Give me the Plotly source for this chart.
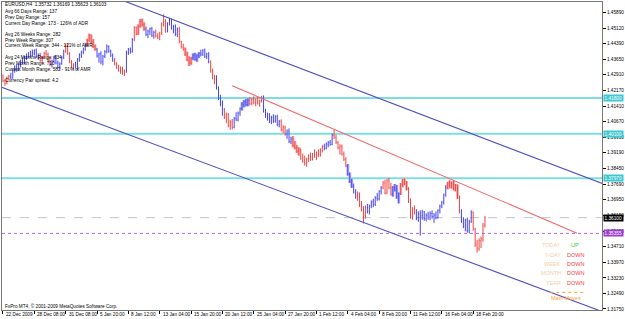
import plotly.graph_objects as go

# ---------------- data (EURUSD, H4) ----------------
opens = [
    1.4285,1.4262,1.4250,1.4276,1.4284,1.4275,1.4310,1.4328,1.4312,1.4338,1.4355,1.4348,1.4372,1.4385,1.4378,1.4398,
    1.4390,1.4405,1.4378,1.4385,1.4360,1.4372,1.4392,1.4386,1.4358,1.4340,1.4355,1.4374,1.4346,1.4325,1.4342,1.4372,
    1.4402,1.4430,1.4392,1.4352,1.4330,1.4338,1.4345,1.4360,1.4385,1.4398,1.4412,1.4432,1.4455,1.4478,1.4448,1.4425,
    1.4412,1.4380,1.4390,1.4352,1.4378,1.4400,1.4425,1.4402,1.4382,1.4360,1.4342,1.4325,1.4312,1.4320,1.4298,1.4308,
    1.4395,1.4410,1.4402,1.4458,1.4515,1.4485,1.4522,1.4545,1.4528,1.4508,1.4482,1.4498,1.4510,1.4476,1.4492,1.4475,
    1.4468,1.4488,1.4532,1.4545,1.4498,1.4535,1.4550,1.4512,1.4520,1.4482,1.4508,1.4448,1.4422,1.4412,1.4388,1.4362,
    1.4345,1.4372,1.4385,1.4365,1.4380,1.4392,1.4386,1.4405,1.4378,1.4390,1.4352,1.4308,1.4275,1.4282,1.4228,1.4178,
    1.4150,1.4125,1.4088,1.4100,1.4048,1.4065,1.4040,1.4082,1.4075,1.4108,1.4128,1.4150,1.4162,1.4148,1.4170,1.4152,
    1.4172,1.4158,1.4170,1.4155,1.4165,1.4182,1.4118,1.4092,1.4102,1.4068,1.4088,1.4070,1.4090,1.4052,1.4068,1.4028,
    1.4040,1.4008,1.4022,1.3972,1.3985,1.3952,1.3942,1.3925,1.3935,1.3892,1.3880,1.3868,1.3888,1.3905,1.3890,1.3912,
    1.3902,1.3918,1.3908,1.3932,1.3948,1.3940,1.3960,1.3968,1.3958,1.4002,1.3992,1.3968,1.3942,1.3950,1.3912,1.3888,
    1.3858,1.3818,1.3782,1.3760,1.3732,1.3710,1.3722,1.3668,1.3650,1.3620,1.3658,1.3640,1.3665,1.3685,1.3672,1.3705,
    1.3700,1.3735,1.3752,1.3775,1.3728,1.3785,1.3752,1.3722,1.3752,1.3742,1.3710,1.3725,1.3768,1.3788,1.3772,1.3748,
    1.3690,1.3615,1.3652,1.3635,1.3610,1.3630,1.3620,1.3638,1.3605,1.3622,1.3612,1.3630,1.3615,1.3622,1.3610,1.3645,
    1.3665,1.3682,1.3718,1.3755,1.3772,1.3760,1.3775,1.3748,1.3762,1.3708,1.3640,1.3595,1.3570,1.3598,1.3548,1.3592,
    1.3635,1.3555,1.3480,1.3462,1.3500,1.3510,1.3573,
]
highs = [
    1.4292,1.4270,1.4282,1.4290,1.4300,1.4318,1.4335,1.4340,1.4345,1.4362,1.4372,1.4380,1.4392,1.4398,1.4405,1.4410,
    1.4412,1.4415,1.4392,1.4395,1.4378,1.4400,1.4408,1.4396,1.4370,1.4362,1.4380,1.4385,1.4358,1.4350,1.4380,1.4410,
    1.4438,1.4440,1.4398,1.4360,1.4345,1.4352,1.4370,1.4392,1.4405,1.4420,1.4440,1.4462,1.4486,1.4482,1.4460,1.4435,
    1.4418,1.4395,1.4402,1.4385,1.4408,1.4435,1.4430,1.4410,1.4392,1.4370,1.4350,1.4338,1.4330,1.4328,1.4315,1.4405,
    1.4418,1.4420,1.4465,1.4522,1.4520,1.4530,1.4555,1.4558,1.4540,1.4520,1.4505,1.4515,1.4518,1.4500,1.4505,1.4488,
    1.4495,1.4540,1.4578,1.4555,1.4540,1.4562,1.4558,1.4528,1.4530,1.4515,1.4518,1.4452,1.4438,1.4420,1.4400,1.4378,
    1.4375,1.4392,1.4395,1.4388,1.4398,1.4410,1.4412,1.4415,1.4395,1.4398,1.4358,1.4320,1.4290,1.4288,1.4235,1.4195,
    1.4168,1.4132,1.4110,1.4108,1.4075,1.4080,1.4090,1.4112,1.4115,1.4135,1.4160,1.4170,1.4175,1.4178,1.4185,1.4180,
    1.4188,1.4178,1.4185,1.4172,1.4190,1.4192,1.4128,1.4110,1.4108,1.4095,1.4102,1.4098,1.4100,1.4075,1.4078,1.4050,
    1.4048,1.4030,1.4035,1.3995,1.3998,1.3975,1.3955,1.3945,1.3940,1.3915,1.3905,1.3895,1.3912,1.3920,1.3918,1.3935,
    1.3925,1.3935,1.3940,1.3955,1.3962,1.3968,1.3975,1.3980,1.4010,1.4028,1.4005,1.3975,1.3960,1.3958,1.3925,1.3898,
    1.3865,1.3825,1.3795,1.3772,1.3745,1.3735,1.3730,1.3690,1.3665,1.3668,1.3675,1.3672,1.3692,1.3700,1.3712,1.3728,
    1.3740,1.3760,1.3785,1.3790,1.3795,1.3800,1.3775,1.3760,1.3770,1.3765,1.3730,1.3775,1.3795,1.3798,1.3785,1.3755,
    1.3702,1.3660,1.3668,1.3650,1.3640,1.3645,1.3648,1.3642,1.3630,1.3638,1.3640,1.3645,1.3632,1.3640,1.3650,1.3672,
    1.3690,1.3725,1.3765,1.3780,1.3787,1.3782,1.3785,1.3770,1.3768,1.3715,1.3650,1.3612,1.3605,1.3610,1.3600,1.3645,
    1.3640,1.3562,1.3505,1.3512,1.3520,1.3585,1.3617,
]
lows = [
    1.4255,1.4238,1.4245,1.4266,1.4270,1.4272,1.4300,1.4305,1.4308,1.4325,1.4340,1.4342,1.4360,1.4370,1.4372,1.4380,
    1.4382,1.4370,1.4360,1.4352,1.4345,1.4365,1.4380,1.4350,1.4330,1.4325,1.4348,1.4340,1.4318,1.4315,1.4338,1.4365,
    1.4395,1.4385,1.4345,1.4322,1.4315,1.4320,1.4312,1.4352,1.4370,1.4388,1.4405,1.4425,1.4448,1.4440,1.4418,1.4405,
    1.4372,1.4348,1.4340,1.4335,1.4370,1.4392,1.4395,1.4375,1.4352,1.4335,1.4318,1.4305,1.4295,1.4290,1.4285,1.4300,
    1.4385,1.4390,1.4395,1.4450,1.4478,1.4480,1.4515,1.4520,1.4500,1.4475,1.4465,1.4480,1.4470,1.4462,1.4468,1.4460,
    1.4455,1.4480,1.4520,1.4490,1.4492,1.4525,1.4505,1.4488,1.4475,1.4470,1.4440,1.4415,1.4405,1.4380,1.4355,1.4332,
    1.4338,1.4360,1.4358,1.4352,1.4370,1.4378,1.4380,1.4370,1.4365,1.4345,1.4300,1.4268,1.4245,1.4220,1.4170,1.4140,
    1.4095,1.4080,1.4060,1.4040,1.4028,1.4030,1.4035,1.4070,1.4068,1.4095,1.4120,1.4135,1.4140,1.4140,1.4145,1.4145,
    1.4150,1.4140,1.4148,1.4138,1.4158,1.4110,1.4085,1.4072,1.4060,1.4055,1.4060,1.4062,1.4045,1.4040,1.4020,1.4012,
    1.4000,1.3985,1.3965,1.3960,1.3945,1.3935,1.3918,1.3905,1.3885,1.3870,1.3858,1.3852,1.3875,1.3880,1.3882,1.3895,
    1.3885,1.3898,1.3900,1.3920,1.3930,1.3935,1.3945,1.3952,1.3955,1.3985,1.3960,1.3935,1.3910,1.3905,1.3880,1.3850,
    1.3810,1.3775,1.3752,1.3725,1.3700,1.3690,1.3660,1.3640,1.3582,1.3605,1.3630,1.3625,1.3655,1.3660,1.3665,1.3690,
    1.3692,1.3720,1.3745,1.3720,1.3722,1.3745,1.3715,1.3710,1.3735,1.3700,1.3678,1.3718,1.3755,1.3765,1.3740,1.3680,
    1.3605,1.3600,1.3625,1.3598,1.3590,1.3525,1.3600,1.3595,1.3592,1.3600,1.3598,1.3605,1.3585,1.3602,1.3605,1.3630,
    1.3655,1.3672,1.3710,1.3745,1.3750,1.3748,1.3740,1.3735,1.3700,1.3630,1.3585,1.3560,1.3545,1.3538,1.3535,1.3585,
    1.3548,1.3470,1.3443,1.3452,1.3465,1.3495,1.3562,
]
closes = [
    1.4262,1.4250,1.4276,1.4284,1.4275,1.4310,1.4328,1.4312,1.4338,1.4355,1.4348,1.4372,1.4385,1.4378,1.4398,1.4390,
    1.4405,1.4378,1.4385,1.4360,1.4372,1.4392,1.4386,1.4358,1.4340,1.4355,1.4374,1.4346,1.4325,1.4342,1.4372,1.4402,
    1.4430,1.4392,1.4352,1.4330,1.4338,1.4345,1.4360,1.4385,1.4398,1.4412,1.4432,1.4455,1.4478,1.4448,1.4425,1.4412,
    1.4380,1.4390,1.4352,1.4378,1.4400,1.4425,1.4402,1.4382,1.4360,1.4342,1.4325,1.4312,1.4320,1.4298,1.4308,1.4395,
    1.4410,1.4402,1.4458,1.4515,1.4485,1.4522,1.4545,1.4528,1.4508,1.4482,1.4498,1.4510,1.4476,1.4492,1.4475,1.4468,
    1.4488,1.4532,1.4545,1.4498,1.4535,1.4550,1.4512,1.4520,1.4482,1.4508,1.4448,1.4422,1.4412,1.4388,1.4362,1.4345,
    1.4368,1.4385,1.4365,1.4380,1.4392,1.4386,1.4405,1.4378,1.4390,1.4352,1.4308,1.4275,1.4282,1.4228,1.4178,1.4150,
    1.4125,1.4088,1.4100,1.4048,1.4065,1.4040,1.4082,1.4075,1.4108,1.4128,1.4150,1.4162,1.4148,1.4170,1.4152,1.4172,
    1.4158,1.4170,1.4155,1.4165,1.4182,1.4118,1.4092,1.4102,1.4068,1.4088,1.4070,1.4090,1.4052,1.4068,1.4028,1.4040,
    1.4008,1.4022,1.3972,1.3985,1.3952,1.3942,1.3925,1.3935,1.3892,1.3880,1.3868,1.3888,1.3905,1.3890,1.3912,1.3902,
    1.3918,1.3908,1.3932,1.3948,1.3940,1.3960,1.3968,1.3958,1.4002,1.3992,1.3968,1.3942,1.3950,1.3912,1.3888,1.3858,
    1.3818,1.3782,1.3760,1.3732,1.3710,1.3722,1.3668,1.3650,1.3620,1.3658,1.3640,1.3665,1.3685,1.3672,1.3705,1.3700,
    1.3735,1.3752,1.3775,1.3728,1.3785,1.3752,1.3722,1.3752,1.3742,1.3710,1.3725,1.3768,1.3788,1.3772,1.3748,1.3690,
    1.3615,1.3652,1.3635,1.3610,1.3630,1.3620,1.3638,1.3605,1.3622,1.3612,1.3630,1.3615,1.3622,1.3610,1.3645,1.3665,
    1.3682,1.3718,1.3755,1.3772,1.3760,1.3775,1.3748,1.3762,1.3708,1.3640,1.3595,1.3570,1.3598,1.3548,1.3592,1.3635,
    1.3555,1.3480,1.3462,1.3500,1.3510,1.3573,1.3610,
]
# trend colouring of the bars (run lengths): r = red, b = blue
color_runs = [("r",4),("b",15),("r",6),("b",7),("r",5),("b",6),("r",5),("b",9),("r",6),("b",4),
              ("r",6),("b",5),("r",6),("b",6),("r",7),("b",9),("r",3),("b",4),("r",5),("b",8),
              ("r",7),("b",9),("r",3),("b",3),("r",16),("b",5),("r",7),("b",5),("r",5),("b",8),
              ("r",5),("b",4),("r",8),("b",16),("r",7),("b",6),("r",7)]
# light (Heiken-Ashi like) body zones: (first bar, last bar, colour)
body_zones = [(43,47,"r"),(69,72,"r"),(93,96,"r"),(97,100,"b"),(122,125,"b"),
              (148,151,"r"),(176,178,"b"),(199,202,"b"),(203,206,"r"),(227,232,"r")]

time_labels = ["22 Dec 2009","28 Dec 08:00","31 Dec 08:00","5 Jan 20:00","8 Jan 12:00",
               "13 Jan 04:00","15 Jan 20:00","20 Jan 12:00","25 Jan 04:00","27 Jan 20:00",
               "1 Feb 12:00","4 Feb 04:00","8 Feb 20:00","11 Feb 12:00","16 Feb 04:00","18 Feb 20:00"]
label_step = 16
price_ticks = ["1.31750","1.32490","1.33230","1.33970","1.34710","1.35450","1.36190","1.36950",
               "1.37690","1.38450","1.39190","1.39930","1.40670","1.41410","1.42170","1.42910",
               "1.43650","1.44390","1.45120","1.45890"]

upper_channel_x = [60, 306]
upper_channel_y = [1.4648, 1.3772]
lower_channel_x = [-1, 306]
lower_channel_y = [1.4232, 1.3162]
red_trend_x = [117, 293]
red_trend_y = [1.4238, 1.3536]
cyan_levels = [1.4180, 1.4010, 1.3797]
cyan_texts = ["1.41800", "1.40100", "1.37970"]
bid_price = 1.3610
bid_text = "1.36100"
purple_level = 1.3535
purple_text = "1.35355"

info_lines = ["EURUSD,H4  1.35732 1.36169 1.35623 1.36103",
              "Avg 66 Days Range: 137", "Prev Day Range: 157",
              "Current Day Range: 173 - 126% of ADR",
              "Avg 26 Weeks Range: 282", "Prev Week Range: 307",
              "Current Week Range: 344 - 121% of AWR",
              "Avg 24 Months Range: 634", "Prev Month Range: 710",
              "Current Month Range: 582 - 91% of AMR",
              "Currency Pair spread: 4.2"]
info_px = [4, 10.5, 16.5, 23, 33.5, 39.5, 45, 56.5, 62.5, 68.5, 80]
period_names = ["TODAY", "Y-DAY", "WEEK", "MONTH", "YEAR"]
period_moves = ["UP", "DOWN", "DOWN", "DOWN", "DOWN"]
period_px = [245, 255, 264.3, 273.3, 282.7]

# ---------------- styling / geometry ----------------
W, H = 625, 319
L, R, T, B = 2, 20, 1, 9
PW, PH = W - L - R, H - T - B
FONT = "Liberation Sans"
FS = 4.7
BLUE, RED = "#4444f0", "#f04444"
LBLUE, LRED = "#b4b4f4", "#f6b4b4"

def py(ypx):   # pixel row -> paper y
    return (H - B - ypx) / PH

def px(xpx):   # pixel column -> paper x
    return (xpx - L) / PW

n = len(closes)
idx = list(range(n))
bar_col = []
for c, k in color_runs:
    bar_col += [c] * k

fig = go.Figure()

# light bodies
for c in ("r", "b"):
    xs, base, hgt = [], [], []
    for a, b, cc in body_zones:
        if cc != c:
            continue
        for i in range(a, b + 1):
            xs.append(i)
            base.append(lows[i])
            hgt.append(highs[i] - lows[i])
    fig.add_trace(go.Bar(x=xs, y=hgt, base=base, width=1.5,
                         marker=dict(color=LRED if c == "r" else LBLUE, line=dict(width=0)),
                         hoverinfo="skip"))

# OHLC bars split by colour
for c, col in (("b", BLUE), ("r", RED)):
    sel = [i for i in idx if bar_col[i] == c]
    fig.add_trace(go.Ohlc(x=sel,
                          open=[opens[i] for i in sel], high=[highs[i] for i in sel],
                          low=[lows[i] for i in sel], close=[closes[i] for i in sel],
                          increasing=dict(line=dict(color=col, width=1)),
                          decreasing=dict(line=dict(color=col, width=1)),
                          tickwidth=0.25, hoverinfo="skip"))

# channel + trend lines
fig.add_trace(go.Scatter(x=upper_channel_x, y=upper_channel_y, mode="lines",
                         line=dict(color="#5050c4", width=1.1), hoverinfo="skip"))
fig.add_trace(go.Scatter(x=lower_channel_x, y=lower_channel_y, mode="lines",
                         line=dict(color="#5050c4", width=1.1), hoverinfo="skip"))
fig.add_trace(go.Scatter(x=red_trend_x, y=red_trend_y, mode="lines",
                         line=dict(color="#f06a6a", width=1.1), hoverinfo="skip"))

shapes = []
for lv in cyan_levels:
    shapes.append(dict(type="line", xref="paper", yref="y", x0=0, x1=1, y0=lv, y1=lv,
                       line=dict(color="#7ddde5", width=2), layer="below"))
shapes.append(dict(type="line", xref="paper", yref="y", x0=0, x1=1, y0=bid_price, y1=bid_price,
                   line=dict(color="#c4c4c4", width=1, dash="dash"), layer="below"))
shapes.append(dict(type="line", xref="paper", yref="y", x0=0, x1=1, y0=purple_level, y1=purple_level,
                   line=dict(color="#b864e8", width=1, dash="dot"), layer="below"))
shapes.append(dict(type="line", xref="paper", yref="paper", x0=px(553), x1=px(588),
                   y0=py(292.3), y1=py(292.3), line=dict(color="#ffa030", width=1, dash="dot")))

ann = []
for t, yp in zip(info_lines, info_px):
    ann.append(dict(text=t, xref="paper", yref="paper", x=0, y=py(yp), xanchor="left",
                    yanchor="middle", xshift=1, showarrow=False, font=dict(size=FS, color="black")))
ann.append(dict(text="FxPro MT4, © 2001-2009 MetaQuotes Software Corp.", xref="paper", yref="paper",
                x=0, y=py(305.5), xanchor="left", yanchor="middle", xshift=1, showarrow=False,
                font=dict(size=FS, color="black")))
for k, t in enumerate(time_labels):
    ann.append(dict(text=t, xref="x", yref="paper", x=k * label_step, y=py(314.3), xanchor="left",
                    yanchor="middle", xshift=1, showarrow=False, font=dict(size=FS, color="black")))
for nm, mv, yp in zip(period_names, period_moves, period_px):
    ann.append(dict(text=nm, xref="paper", yref="paper", x=px(566), y=py(yp), xanchor="right",
                    yanchor="middle", showarrow=False, font=dict(size=5.5, color="#f3cfa6")))
    ann.append(dict(text=mv, xref="paper", yref="paper", x=px(578), y=py(yp), xanchor="center",
                    yanchor="middle", showarrow=False,
                    font=dict(size=5.5, color="#33cc33" if mv == "UP" else "#f04040")))
ann.append(dict(text="Main Moves", xref="paper", yref="paper", x=px(569), y=py(297.5), xanchor="center",
                yanchor="middle", showarrow=False, font=dict(size=5.5, color="#ffa030")))
# right-axis price boxes
boxes = [(v, t, "#3cc8d2") for v, t in zip(cyan_levels, cyan_texts)]
boxes += [(bid_price, bid_text, "#000000"), (purple_level, purple_text, "#9a3ad0")]
for v, t, bg in boxes:
    ann.append(dict(text=t, xref="paper", yref="y", x=1, y=v, xanchor="left", yanchor="middle",
                    xshift=1, showarrow=False, bgcolor=bg, borderpad=0.6,
                    font=dict(size=FS, color="white")))

fig.update_layout(
    width=W, height=H, margin=dict(l=L, r=R, t=T, b=B),
    paper_bgcolor="white", plot_bgcolor="white", showlegend=False,
    font=dict(family=FONT, size=FS, color="black"),
    barmode="overlay", shapes=shapes, annotations=ann,
    xaxis=dict(range=[-0.5, -0.5 + PW / 1.969], showgrid=False, zeroline=False,
               showline=True, mirror=True, linecolor="#777777", linewidth=1,
               tickvals=[k * label_step for k in range(len(time_labels))],
               ticks="outside", ticklen=3, tickcolor="#000000", showticklabels=False,
               rangeslider=dict(visible=False), fixedrange=True),
    yaxis=dict(side="right", range=[1.31702, 1.46368], showgrid=False, zeroline=False,
               showline=True, mirror=True, linecolor="#777777", linewidth=1,
               tickvals=[float(t) for t in price_ticks], ticktext=price_ticks,
               ticks="outside", ticklen=3, tickcolor="#000000",
               tickfont=dict(size=FS, color="black"), fixedrange=True),
)

fig.write_html("out.html")
